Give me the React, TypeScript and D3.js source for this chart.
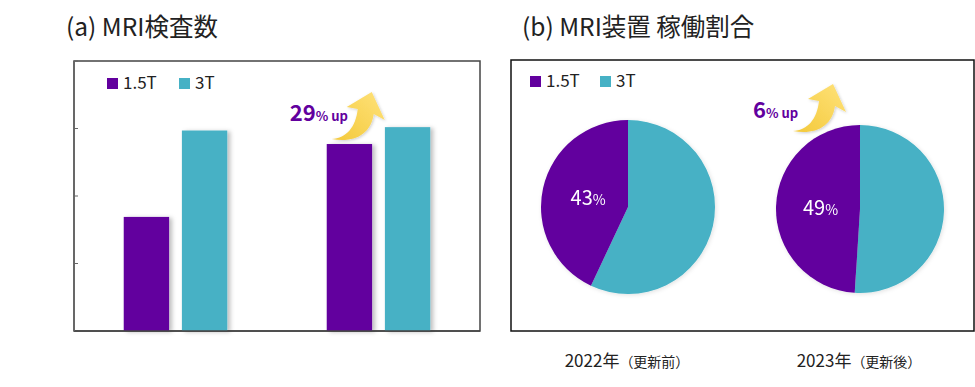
import React from 'react';
import * as d3 from 'd3';

// ---- data ----
const years = ['2022', '2023'];
const series = ['1.5T', '3T'];
const examCounts15T = [1.69, 2.77];
const examCounts3T = [2.97, 3.02];
const share15T = [43, 49];
const share3T = [57, 51];
const yTicks = [0, 1, 2, 3, 4];
const yearNotes = ['（更新前）', '（更新後）'];
const barUpLabel = '29';
const pieUpLabel = '6';

const PURPLE = '#62009e';
const TEAL = '#46b1c5';
const FONT = '"Noto Sans CJK JP", "Noto Sans", sans-serif';

const W = 975;
const H = 387;

// bar panel frame
const B = { left: 74, right: 480, top: 61, bottom: 331 };
// pie panel frame
const P = { left: 511, right: 974, top: 60, bottom: 331 };

const colorFor = d3.scaleOrdinal<string, string>().domain(series).range([PURPLE, TEAL]);

// curved "up" arrow, tail at origin, tip at (40,-47)
const arrowPath =
    'M0,0 C15,-1 24,-12 26,-30 L15,-32 L40,-47 L53,-19 L42,-25 C39,-4 22,4 0,0 Z';

function UpArrow({ x, y, id }: { x: number; y: number; id: string }) {
    return (
        <g transform={`translate(${x},${y})`}>
            <path d={arrowPath} fill={`url(#${id})`} filter="url(#softShadow)" />
        </g>
    );
}

function Legend({ x, y, gap }: { x: number; y: number; gap: number }) {
    return (
        <g transform={`translate(${x},${y})`}>
            {series.map((s, i) => (
                <g key={s} transform={`translate(${i * gap},0)`}>
                    <rect x={0} y={-11} width={11} height={11} fill={colorFor(s)} />
                    <text x={16} y={0} fontSize={17} fill="#222" fontFamily={FONT}>
                        {s}
                    </text>
                </g>
            ))}
        </g>
    );
}

function BarPanel() {
    const x0 = d3.scaleBand<string>().domain(years).range([B.left, B.right]).paddingInner(0.49).paddingOuter(0.245);
    const x1 = d3.scaleBand<string>().domain(series).range([0, x0.bandwidth()]).paddingInner(0.22);
    const y = d3.scaleLinear().domain([0, 4]).range([B.bottom, B.top]);

    const rows = years.map((yr, i) => ({
        year: yr,
        values: [
            { key: '1.5T', v: examCounts15T[i] },
            { key: '3T', v: examCounts3T[i] },
        ],
    }));

    const up = rows[1].values[0];
    const annX = x0(years[1])! - 37;
    const annY = y(up.v) - 23;

    return (
        <g>
            <text x={66} y={36} fontSize={24.5} fill="#222" fontFamily={FONT}>
                (a) MRI検査数
            </text>
            <rect
                x={B.left}
                y={B.top}
                width={B.right - B.left}
                height={B.bottom - B.top}
                fill="white"
                stroke="#444"
                strokeWidth={1.5}
            />
            {yTicks.map((t) => (
                <line key={t} x1={B.left} x2={B.left + 4} y1={y(t)} y2={y(t)} stroke="#666" strokeWidth={1} />
            ))}
            {rows.map((r) => (
                <g key={r.year} transform={`translate(${x0(r.year)},0)`}>
                    {r.values.map((d) => (
                        <rect
                            key={d.key}
                            x={x1(d.key)}
                            y={y(d.v)}
                            width={x1.bandwidth()}
                            height={y(0) - y(d.v)}
                            fill={colorFor(d.key)}
                            filter="url(#barShadow)"
                        />
                    ))}
                </g>
            ))}
            <line x1={B.left} x2={B.right} y1={B.bottom} y2={B.bottom} stroke="#444" strokeWidth={1.5} />
            <line x1={B.left} x2={B.left} y1={B.top} y2={B.bottom} stroke="#666" strokeWidth={1.5} />
            <Legend x={107} y={89} gap={72} />
            <UpArrow x={annX + 42} y={annY + 18} id="arrowGrad" />
            <text x={annX} y={annY + 0} fontFamily={FONT} fontWeight={700} fill={PURPLE}>
                <tspan fontSize={22}>{barUpLabel}</tspan>
                <tspan fontSize={13}>% up</tspan>
            </text>
        </g>
    );
}

function PiePanel() {
    const cx = d3.scalePoint<string>().domain(years).range([628, 860]);
    const radii = [87, 84];
    const cys = [207, 209];
    const pie = d3
        .pie<{ key: string; v: number }>()
        .sort(null)
        .value((d) => d.v);

    return (
        <g>
            <text x={522} y={36} fontSize={24.5} fill="#222" fontFamily={FONT}>
                (b) MRI装置 稼働割合
            </text>
            <rect
                x={P.left}
                y={P.top}
                width={P.right - P.left}
                height={P.bottom - P.top}
                fill="white"
                stroke="#111"
                strokeWidth={1.5}
            />
            <Legend x={530} y={87} gap={70} />
            {years.map((yr, i) => {
                const r = radii[i];
                const arcs = pie([
                    { key: '3T', v: share3T[i] },
                    { key: '1.5T', v: share15T[i] },
                ]);
                const arc = d3.arc<d3.PieArcDatum<{ key: string; v: number }>>().innerRadius(0).outerRadius(r);
                const labelArc = d3
                    .arc<d3.PieArcDatum<{ key: string; v: number }>>()
                    .innerRadius(r * 0.47)
                    .outerRadius(r * 0.47);
                const purple = arcs[1];
                const [lx, ly] = labelArc.centroid(purple);
                return (
                    <g key={yr}>
                        <g transform={`translate(${cx(yr)},${cys[i]})`} filter="url(#pieShadow)">
                            {arcs.map((a) => (
                                <path key={a.data.key} d={arc(a) || ''} fill={colorFor(a.data.key)} />
                            ))}
                            <text
                                x={lx}
                                y={ly + 7}
                                textAnchor="middle"
                                fill="white"
                                fontFamily={FONT}
                            >
                                <tspan fontSize={20}>{share15T[i]}</tspan>
                                <tspan fontSize={14}>%</tspan>
                            </text>
                        </g>
                        <text
                            x={cx(yr)! - 1}
                            y={367}
                            textAnchor="middle"
                            fill="#222"
                            fontFamily={FONT}
                        >
                            <tspan fontSize={17}>{yr}年</tspan>
                            <tspan fontSize={14}>{yearNotes[i]}</tspan>
                        </text>
                    </g>
                );
            })}
            <UpArrow x={793} y={131} id="arrowGrad" />
            <text x={753} y={118} fontFamily={FONT} fontWeight={700} fill={PURPLE}>
                <tspan fontSize={22}>{pieUpLabel}</tspan>
                <tspan fontSize={13}>% up</tspan>
            </text>
        </g>
    );
}

export default function App() {
    return (
        <svg
            width={W}
            height={H}
            viewBox={`0 0 ${W} ${H}`}
            style={{ position: 'absolute', left: 0, top: 0, background: 'white' }}
        >
            <defs>
                <linearGradient id="arrowGrad" x1="0" y1="1" x2="1" y2="0">
                    <stop offset="0%" stopColor="#f3c93a" />
                    <stop offset="100%" stopColor="#ffe27a" />
                </linearGradient>
                <filter id="barShadow" x="-20%" y="-10%" width="150%" height="120%">
                    <feDropShadow dx={3} dy={1} stdDeviation={2} floodColor="#000" floodOpacity={0.25} />
                </filter>
                <filter id="pieShadow" x="-20%" y="-20%" width="140%" height="140%">
                    <feDropShadow dx={1} dy={1} stdDeviation={2} floodColor="#000" floodOpacity={0.12} />
                </filter>
                <filter id="softShadow" x="-30%" y="-30%" width="160%" height="160%">
                    <feDropShadow dx={1} dy={1} stdDeviation={1.5} floodColor="#000" floodOpacity={0.2} />
                </filter>
            </defs>
            <rect width={W} height={H} fill="white" />
            <BarPanel />
            <PiePanel />
        </svg>
    );
}
